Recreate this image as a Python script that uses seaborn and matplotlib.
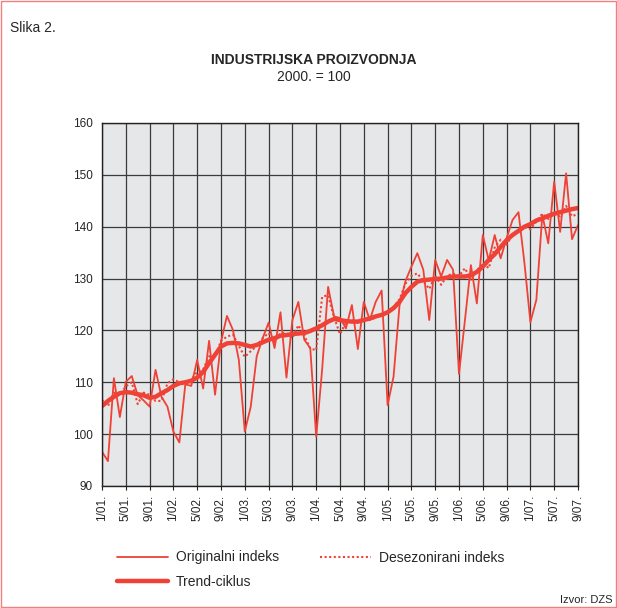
import numpy as np
import pandas as pd
import matplotlib
matplotlib.use('Agg')
import matplotlib.pyplot as plt
import seaborn as sns
from matplotlib.lines import Line2D
from matplotlib.patches import Rectangle

# monthly values, 1/2001 .. 9/2007 (2000. = 100)
originalni = [96.6, 94.8, 110.8, 103.3, 110.1, 111.2, 107.5, 106.5, 105.3, 112.4,
              107.2, 105.3, 100.5, 98.4, 109.6, 109.3, 114.3, 108.8, 118.0, 107.6,
              117.8, 122.8, 120.1, 114.3, 100.5, 105.3, 115.0, 118.5, 121.5, 116.6,
              123.5, 110.9, 122.0, 125.5, 118.2, 116.6, 99.5, 112.5, 128.4, 122.7,
              122.4, 120.4, 124.9, 116.4, 125.5, 122.0, 125.5, 127.7, 105.6, 111.1,
              124.8, 129.5, 132.3, 134.9, 131.7, 122.0, 133.6, 130.4, 133.6, 131.7,
              111.6, 122.0, 132.6, 125.2, 138.4, 133.5, 138.4, 133.9, 137.8, 141.3,
              142.8, 133.0, 121.6, 125.9, 142.3, 136.8, 148.7, 139.0, 150.3, 137.6,
              140.3]
desezonirani = [106.6, 105.4, 108.0, 107.5, 109.2, 110.0, 105.8, 108.0, 107.6, 106.4,
                106.4, 109.8, 110.6, 110.0, 110.0, 110.5, 112.0, 112.5, 115.0, 115.0,
                118.0, 118.8, 119.2, 117.0, 114.9, 116.0, 117.0, 118.5, 119.5, 117.8,
                119.5, 119.5, 118.5, 121.0, 119.0, 116.5, 116.2, 126.5, 126.8, 122.5,
                119.3, 121.5, 122.0, 121.5, 122.3, 122.0, 122.5, 123.0, 123.6, 124.5,
                126.0, 129.0, 130.5, 131.0, 129.5, 128.0, 130.5, 128.8, 130.5, 131.0,
                130.5, 132.0, 129.8, 131.5, 133.0, 132.0, 136.0, 137.5, 136.5, 138.5,
                139.0, 140.0, 139.5, 141.0, 142.5, 141.5, 142.5, 142.0, 144.0, 142.0,
                142.5]
trend = [105.4, 106.4, 107.2, 107.9, 108.1, 108.0, 107.7, 107.5, 107.0, 107.2,
         107.9, 108.5, 109.3, 109.8, 110.0, 110.3, 110.9, 112.0, 113.7, 115.3,
         116.9, 117.5, 117.6, 117.5, 117.2, 116.9, 117.2, 117.7, 118.2, 118.5,
         119.0, 119.1, 119.3, 119.4, 119.5, 119.9, 120.4, 121.0, 121.7, 122.2,
         122.0, 121.8, 121.7, 121.7, 122.0, 122.3, 122.7, 123.0, 123.5, 124.3,
         125.5, 127.2, 128.4, 129.4, 129.7, 129.8, 129.9, 130.0, 130.2, 130.4,
         130.4, 130.4, 130.6, 131.3, 132.3, 133.6, 134.7, 136.1, 137.4, 138.4,
         139.2, 140.0, 140.5, 141.2, 141.6, 142.1, 142.5, 142.8, 143.1, 143.4,
         143.6]
tick_labels = ['1/01.', '5/01.', '9/01.', '1/02.', '5/02.', '9/02.', '1/03.', '5/03.',
               '9/03.', '1/04.', '5/04.', '9/04.', '1/05.', '5/05.', '9/05.', '1/06.',
               '5/06.', '9/06.', '1/07.', '5/07.', '9/07.']

df = pd.DataFrame({'mjesec': np.arange(len(originalni)),
                   'Originalni indeks': originalni,
                   'Desezonirani indeks': desezonirani,
                   'Trend-ciklus': trend})

sns.set_style('white')
plt.rcParams['font.family'] = ['Liberation Sans', 'DejaVu Sans']

red = '#ef4136'
fig = plt.figure(figsize=(6.17, 6.08), dpi=100)
ax = fig.add_axes([102/617, 1 - 486/608, 476/617, 363/608])
ax.set_facecolor('#e6e7e8')

sns.lineplot(data=df, x='mjesec', y='Originalni indeks', ax=ax, color=red, lw=1.3)
sns.lineplot(data=df, x='mjesec', y='Desezonirani indeks', ax=ax, color=red, lw=1.5,
             linestyle=(0, (1, 1.2)))
sns.lineplot(data=df, x='mjesec', y='Trend-ciklus', ax=ax, color=red, lw=3.2)

ax.set_xlim(0, len(originalni) - 1)
ax.set_ylim(90, 160)
ax.set_yticks(range(90, 161, 10))
ax.set_xticks(range(0, len(originalni), 4))
ax.set_xticklabels(tick_labels, rotation=90)
ax.tick_params(labelsize=8.5, length=3, color='#222222', direction='out')
ax.tick_params(axis='x', bottom=True)
ax.tick_params(axis='y', left=False)
ax.grid(True, color='#3a3a3a', lw=0.9)
ax.set_axisbelow(True)
for s in ax.spines.values():
    s.set_color('#222222')
    s.set_linewidth(1.0)
ax.set_xlabel('')
ax.set_ylabel('')

fig.text(10/617, 1 - 28/608, 'Slika 2.', fontsize=10, va='center', ha='left')
fig.text(314/617, 1 - 60/608, 'INDUSTRIJSKA PROIZVODNJA', fontsize=10, fontweight='bold',
         ha='center', va='center')
fig.text(314/617, 1 - 77/608, '2000. = 100', fontsize=10, ha='center', va='center')
fig.text(612/617, 1 - 600/608, 'Izvor: DZS', fontsize=8, ha='right', va='center')

handles = [Line2D([], [], color=red, lw=1.3),
           Line2D([], [], color=red, lw=3.2),
           Line2D([], [], color=red, lw=1.5, linestyle=(0, (1, 1.2)))]
labels = ['Originalni indeks', 'Trend-ciklus', 'Desezonirani indeks']
fig.legend(handles, labels, loc='upper left', bbox_to_anchor=(104/617, 1 - 538/608),
           ncol=2, frameon=False, fontsize=10, handlelength=3.7, labelspacing=0.75,
           columnspacing=2.9, handletextpad=0.6)

fig.patches.append(Rectangle((0.002, 0.002), 0.996, 0.996, transform=fig.transFigure,
                             fill=False, edgecolor='#f08080', lw=1.0))

fig.savefig('out.png', dpi=100, facecolor='white')
